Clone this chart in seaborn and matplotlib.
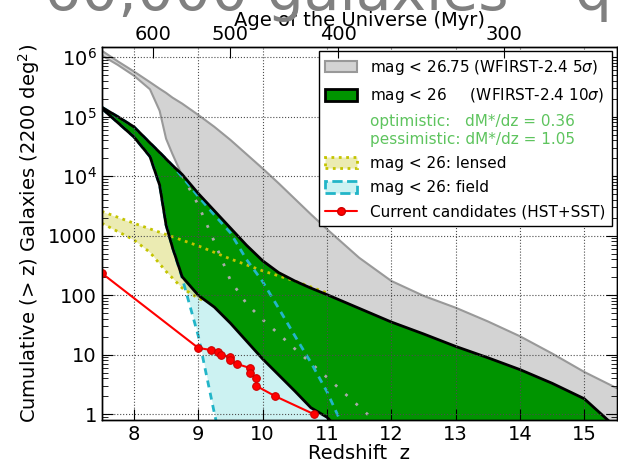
import numpy as np
import matplotlib
matplotlib.use("Agg")
import matplotlib.pyplot as plt
from matplotlib.patches import Patch
from matplotlib.lines import Line2D
from matplotlib.ticker import FixedLocator, FixedFormatter, LogLocator, NullFormatter
import seaborn as sns

# ---------------- data (log10 of cumulative counts) ----------------
z_band = [7.5, 7.75, 8.0, 8.25, 8.4, 8.5, 8.6, 8.75, 9.0, 9.25, 9.5, 9.75, 10.0,
          10.25, 10.5, 10.75, 11.0, 11.5, 12.0, 12.5, 13.0, 13.5, 14.0, 14.5, 15.0, 15.5]
# mag < 26.75 (5 sigma): optimistic / pessimistic
log_m2675_opt = [6.11, 5.93, 5.76, 5.58, 5.47, 5.40, 5.32, 5.22, 5.03, 4.83, 4.61, 4.37, 4.13,
                 3.88, 3.62, 3.36, 3.11, 2.63, 2.24, 1.99, 1.79, 1.56, 1.31, 1.02, 0.71, 0.44]
log_m2675_pes = [6.03, 5.87, 5.69, 5.46, 5.10, 4.63, 4.37, 4.01, 3.52, 2.90, 2.25, 1.86, 1.59,
                 1.35, 1.10, 0.86, 0.62, 0.13, -0.37, -1.0, -1.0, -1.0, -1.0, -1.0, -1.0, -1.0]
# mag < 26 (10 sigma): optimistic / pessimistic
log_m26_opt = [5.16, 5.00, 4.83, 4.56, 4.40, 4.29, 4.18, 4.03, 3.71, 3.42, 3.13, 2.84, 2.58,
               2.38, 2.24, 2.12, 2.01, 1.78, 1.55, 1.35, 1.14, 0.95, 0.75, 0.52, 0.26, -0.23]
log_m26_pes = [5.14, 4.90, 4.66, 4.33, 3.85, 3.18, 2.80, 2.31, 2.00, 1.80, 1.53, 1.23, 0.93,
               0.66, 0.39, 0.11, -0.05, -0.6, -0.6, -0.6, -0.6, -0.6, -0.6, -0.6, -0.6, -0.6]
# mag < 26 field: optimistic / pessimistic
log_field_opt = [5.16, 5.00, 4.83, 4.56, 4.40, 4.29, 4.18, 3.99, 3.66, 3.35, 3.05, 2.60, 2.23,
                 1.78, 1.32, 0.87, 0.38, -0.8, -1.5, -1.5, -1.5, -1.5, -1.5, -1.5, -1.5, -1.5]
log_field_pes = [5.14, 4.90, 4.66, 4.33, 3.85, 3.18, 2.80, 2.29, 1.32, 0.02, -1.2, -1.5, -1.5,
                 -1.5, -1.5, -1.5, -1.5, -1.5, -1.5, -1.5, -1.5, -1.5, -1.5, -1.5, -1.5, -1.5]
# mag < 26 lensed
z_lens = [7.5, 7.75, 8.0, 8.25, 8.5, 8.75, 9.0, 9.1]
log_lens_opt = [3.41, 3.31, 3.21, 3.12, 3.02, 2.92, 2.83, 2.80]
log_lens_pes = [3.21, 3.07, 2.93, 2.72, 2.40, 2.12, 1.95, 1.90]
z_lens_line = [7.5, 8.0, 8.5, 9.0, 9.5, 10.0, 10.5, 11.0]
log_lens_line = [3.41, 3.21, 3.02, 2.83, 2.61, 2.41, 2.24, 2.04]
# current candidates (HST+SST)
z_cand = [7.5, 9.0, 9.2, 9.3, 9.35, 9.5, 9.5, 9.6, 9.8, 9.8, 9.9, 9.9, 10.2, 10.8]
n_cand = [235, 13, 12, 11, 10, 9, 8, 7, 6, 5, 4, 3, 2, 1]

age_ticks = [600, 500, 400, 300]
y_ticks = [1, 10, 100, 1000, 1e4, 1e5, 1e6]
y_ticklabels = ['1', '10', '100', '1000', '$10^4$', '$10^5$', '$10^6$']

legend_labels = ['mag < 26.75 (WFIRST-2.4 5$\\sigma$)',
                 'mag < 26     (WFIRST-2.4 10$\\sigma$)',
                 'optimistic:   dM*/dz = 0.36\npessimistic: dM*/dz = 1.05',
                 'mag < 26: lensed',
                 'mag < 26: field',
                 'Current candidates (HST+SST)']

# ---------------- style ----------------
sns.set_style("ticks")
plt.rcParams.update({
    'font.family': ['DejaVu Sans'],
    'text.color': 'black', 'axes.labelcolor': 'black',
    'xtick.color': 'black', 'ytick.color': 'black',
    'axes.edgecolor': 'black', 'axes.linewidth': 1.0,
    'xtick.direction': 'in', 'ytick.direction': 'in',
    'xtick.major.size': 8, 'ytick.major.size': 8,
    'xtick.minor.size': 4, 'ytick.minor.size': 4,
    'font.size': 14, 'mathtext.fontset': 'dejavusans',
})

GRAY_F, GRAY_E = '#d3d3d3', '#999999'
GREEN = '#009400'
GREEN_TXT = '#5ec45e'
CYAN_E = '#22b5c8'
YEL_E = '#c4c400'

def N(a):
    return 10.0 ** np.asarray(a, dtype=float)

fig = plt.figure(figsize=(6.18, 4.62), dpi=100)
ax = fig.add_axes([0.1646, 0.0909, 0.833, 0.808])
ax.set_yscale('log')

zb = np.asarray(z_band)
# gray band
ax.fill_between(zb, N(log_m2675_pes), N(log_m2675_opt), facecolor=GRAY_F, edgecolor='none', zorder=1)
sns.lineplot(x=zb, y=N(log_m2675_opt), ax=ax, color=GRAY_E, lw=1.5, estimator=None, sort=False, zorder=1.05)
sns.lineplot(x=zb, y=N(log_m2675_pes), ax=ax, color=GRAY_E, lw=1.5, estimator=None, sort=False, zorder=1.05)
# field band
ax.fill_between(zb, N(log_field_pes), N(log_field_opt), facecolor='c', alpha=0.2, lw=0, zorder=1.1)
# lensed band
ax.fill_between(z_lens, N(log_lens_pes), N(log_lens_opt), facecolor='y', alpha=0.3, lw=0, zorder=1.2)
ax.plot(z_lens, N(log_lens_pes), color=YEL_E, lw=2, ls=':', zorder=1.25)
# green band
ax.fill_between(zb, N(log_m26_pes), N(log_m26_opt), facecolor=GREEN, edgecolor='none', zorder=1.3)

# lines over green
i0 = z_band.index(8.75)
ax.plot(zb[i0:], N(log_m2675_pes[i0:]), color='#aaaaaa', lw=2, ls=(0, (1, 4)), zorder=2)
ax.plot(z_lens_line, N(log_lens_line), color=YEL_E, lw=2, ls=':', zorder=2)
ax.plot(zb, N(log_field_opt), color=CYAN_E, lw=2, ls=(0, (2.5, 2)), zorder=2.1)
ax.plot(zb, N(log_field_pes), color=CYAN_E, lw=2, ls=(0, (2.5, 2)), zorder=2.1)
sns.lineplot(x=zb, y=N(log_m26_opt), ax=ax, color='k', lw=2, estimator=None, sort=False, zorder=2.2)
sns.lineplot(x=zb, y=N(log_m26_pes), ax=ax, color='k', lw=2, estimator=None, sort=False, zorder=2.2)

# candidates
sns.lineplot(x=z_cand, y=n_cand, ax=ax, color='red', lw=1.5, marker='o', markersize=5.5,
             markeredgecolor='#cc0000', estimator=None, sort=False, zorder=3)

ax.set_xlim(7.5, 15.5)
ax.set_ylim(0.8, 1.5e6)
ax.yaxis.set_major_locator(FixedLocator(y_ticks))
ax.yaxis.set_major_formatter(FixedFormatter(y_ticklabels))
ax.yaxis.set_minor_locator(LogLocator(base=10, subs=np.arange(2, 10), numticks=20))
ax.yaxis.set_minor_formatter(NullFormatter())
ax.set_xticks(range(8, 16))
ax.tick_params(which='both', direction='in', top=True, right=True, labelsize=14)
ax.tick_params(axis='x', which='major', top=True, labeltop=False)
ax.grid(True, which='major', ls=':', color='0.3', lw=0.8)
ax.set_axisbelow(False)
ax.set_xlabel('Redshift  z', fontsize=14, labelpad=0)
ax.set_ylabel('Cumulative (> z) Galaxies (2200 deg$^2$)', fontsize=14, labelpad=4)

# top axis: age of the universe
ax2 = ax.twiny()
ax2.set_xlim(ax.get_xlim())
z_age = [(17000.0 / a) ** (2.0 / 3.0) - 1.0 for a in age_ticks]
ax2.set_xticks(z_age)
ax2.set_xticklabels([str(a) for a in age_ticks])
ax2.tick_params(axis='x', direction='in', length=8, labelsize=14, pad=2)
ax2.set_xlabel('Age of the Universe (Myr)', fontsize=14, labelpad=-1)
ax2.grid(False)

# legend
handles = [
    Patch(facecolor=GRAY_F, edgecolor=GRAY_E, lw=1.5),
    Patch(facecolor=GREEN, edgecolor='k', lw=2),
    Line2D([], [], ls='none'),
    Patch(facecolor=(191/255, 191/255, 0, 0.3), edgecolor=YEL_E, ls=':', lw=2),
    Patch(facecolor=(0, 0.75, 0.75, 0.2), edgecolor=CYAN_E, ls='--', lw=2),
    Line2D([], [], color='red', marker='o', lw=1.5, ms=5.5, mec='#cc0000'),
]
leg = ax.legend(handles, legend_labels, loc='upper right', fontsize=11, frameon=True,
                fancybox=False, edgecolor='k', framealpha=1, borderaxespad=0.3,
                handlelength=2.1, handleheight=0.75, labelspacing=0.6,
                handletextpad=0.8, borderpad=0.45)
leg.get_frame().set_linewidth(1.0)
leg.get_texts()[2].set_color(GREEN_TXT)
leg.set_zorder(5)

# overlaid slide text, cut by the top edge
fig.text(0.072, 0.978, '60,000 galaxies \u2013 q', fontsize=42, color='#808080',
         ha='left', va='baseline', zorder=10)

fig.savefig('out.png', dpi=100)
